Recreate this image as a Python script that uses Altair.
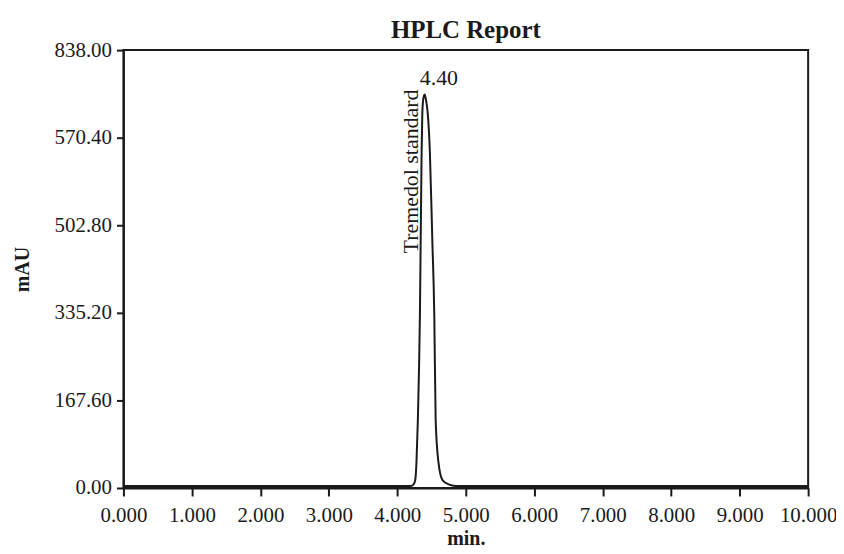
import altair as alt
import pandas as pd

# Chromatogram trace (minutes, mAU)
time_min = [0.0, 4.20, 4.23, 4.26, 4.28, 4.30, 4.33, 4.355, 4.365, 4.38, 4.40,
            4.42, 4.445, 4.475, 4.51, 4.54, 4.56, 4.60, 4.66, 4.75, 4.85, 10.0]
signal_mau = [4, 4, 6, 14, 50, 130, 330, 645, 716, 745, 753,
              742, 716, 645, 480, 330, 130, 50, 15, 7, 4, 4]

# Peak annotation
peak_time = [4.40]
peak_height = [753]
peak_label = ["4.40"]
peak_name = ["Tremedol standard"]

# Axis ticks (labels exactly as printed in the reference)
x_ticks = [0, 1, 2, 3, 4, 5, 6, 7, 8, 9, 10]
y_ticks = [0, 167.6, 335.2, 502.8, 670.4, 838.0]
y_tick_labels = ["0.00", "167.60", "335.20", "502.80", "570.40", "838.00"]

trace = pd.DataFrame({"t": time_min, "v": signal_mau})
peaks = pd.DataFrame({"t": peak_time, "v": peak_height,
                      "lab": peak_label, "name": peak_name})

FONT = "Liberation Serif"
INK = "#1a1a1a"

label_expr = "[" + ",".join(f"'{s}'" for s in y_tick_labels) + "][indexof([" + \
    ",".join(str(v) for v in y_ticks) + "], datum.value)]"

x_scale = alt.Scale(domain=[0, 10], nice=False, zero=False)
y_scale = alt.Scale(domain=[0, 838], nice=False)

line = alt.Chart(trace).mark_line(color=INK, strokeWidth=2, interpolate="monotone").encode(
    x=alt.X("t:Q", scale=x_scale,
            axis=alt.Axis(title="min.", values=x_ticks, format=".3f",
                          labelFont=FONT, labelFontSize=21, labelColor=INK,
                          titleFont=FONT, titleFontSize=20, titleFontWeight="bold",
                          titleColor=INK, titlePadding=3,
                          domainColor=INK, domainWidth=2, tickColor=INK, tickWidth=2,
                          tickSize=8, labelPadding=9, grid=False, labelFlush=False)),
    y=alt.Y("v:Q", scale=y_scale,
            axis=alt.Axis(title="mAU", values=y_ticks, labelExpr=label_expr,
                          labelFont=FONT, labelFontSize=21, labelColor=INK,
                          titleFont=FONT, titleFontSize=20, titleFontWeight="bold",
                          titleColor=INK, titlePadding=22,
                          domainColor=INK, domainWidth=2, tickColor=INK, tickWidth=2,
                          tickSize=7, labelPadding=5, grid=False, labelFlush=False)),
)

num = alt.Chart(peaks).mark_text(font=FONT, fontSize=22, color=INK, align="left",
                                 baseline="alphabetic", dx=-5, dy=-10).encode(
    x=alt.X("t:Q", scale=x_scale), y=alt.Y("v:Q", scale=y_scale), text="lab:N")

name = alt.Chart(peaks).mark_text(font=FONT, fontSize=22, color=INK, align="right",
                                  baseline="alphabetic", angle=270, dx=5, dy=-7).encode(
    x=alt.X("t:Q", scale=x_scale), y=alt.Y("v:Q", scale=y_scale), text="name:N")

chart = alt.layer(line, num, name).properties(
    width=688, height=440,
    title=alt.TitleParams("HPLC Report", font=FONT, fontSize=25, fontWeight="bold",
                          color=INK, offset=-4),
    autosize=alt.AutoSizeParams(type="none"),
    padding={"left": 116, "top": 41, "right": 28, "bottom": 65},
).configure(background="white").configure_view(stroke=INK, strokeWidth=2)

chart.save("out.html", embed_options={"renderer": "svg", "actions": False})
